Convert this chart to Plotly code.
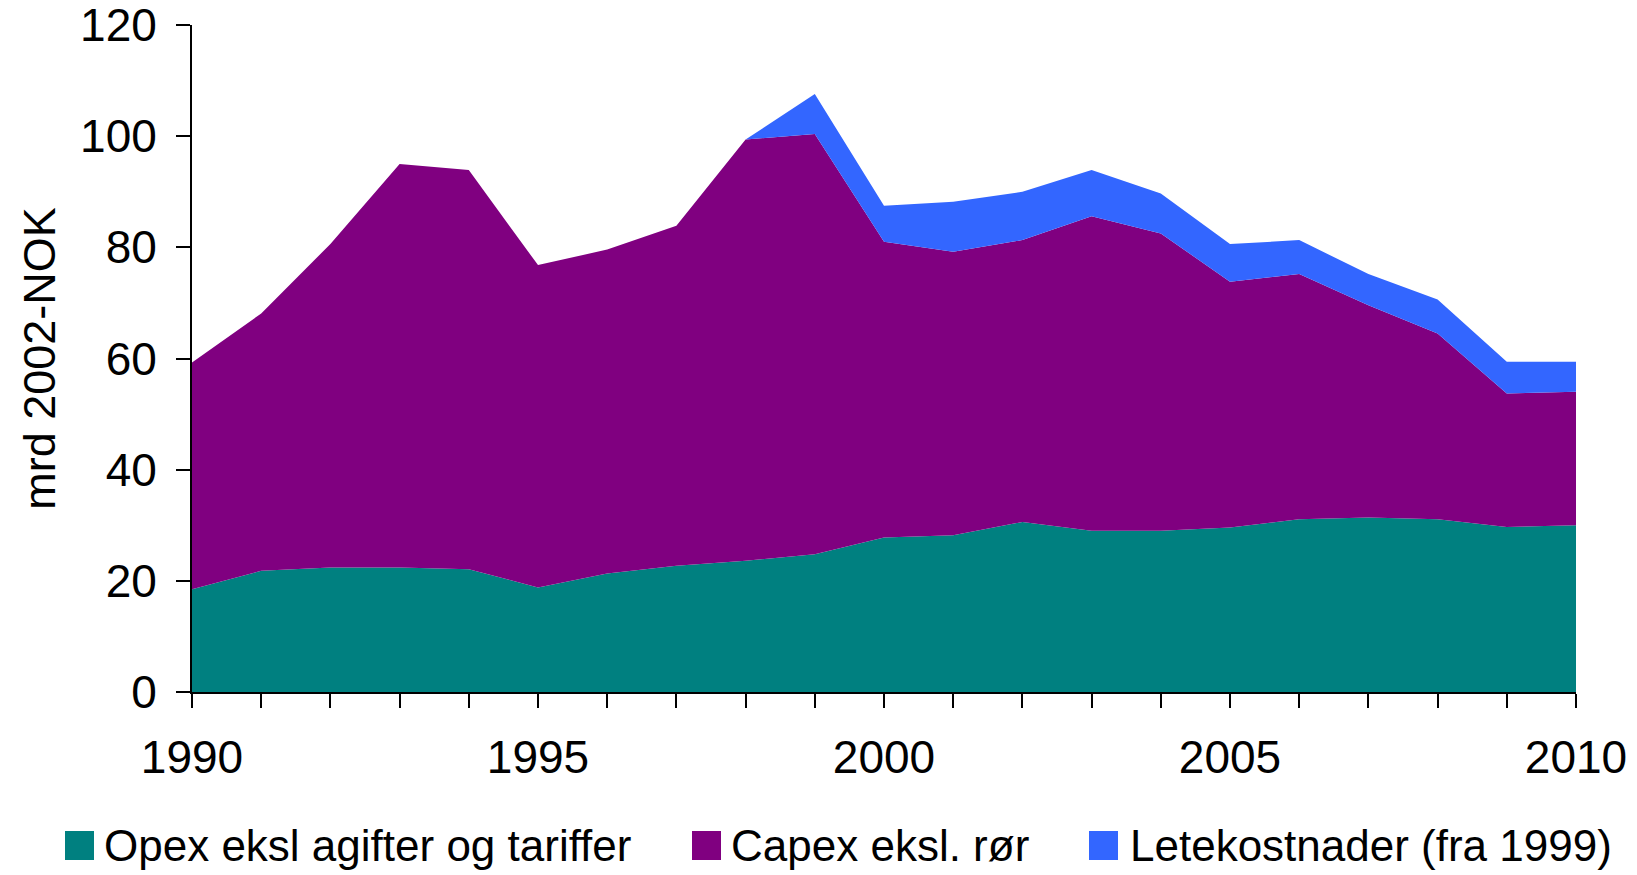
"""
Stacked area chart: petroleum costs, mrd 2002-NOK, 1990-2010.
"""

import plotly.graph_objects as go


# ==========================================================
# DATA
# ==========================================================

years = list(range(1990, 2011))

opex = [18.5, 21.8, 22.4, 22.4, 22.1, 18.8, 21.3, 22.7, 23.6, 24.8, 27.8,
        28.2, 30.6, 29.0, 29.0, 29.6, 31.1, 31.4, 31.1, 29.7, 30.0]

capex = [40.8, 46.3, 58.2, 72.6, 71.8, 58.0, 58.3, 61.2, 75.8, 75.6, 53.2,
         51.0, 50.7, 56.6, 53.5, 44.2, 44.1, 38.2, 33.4, 24.0, 24.0]

lete = [None, None, None, None, None, None, None, None, 0.0, 7.2, 6.5,
        9.0, 8.7, 8.3, 7.2, 6.8, 6.1, 5.6, 6.1, 5.7, 5.4]

series_names = [
    "Opex eksl agifter og tariffer",
    "Capex eksl. rør",
    "Letekostnader (fra 1999)",
]
series_colors = ["#008080", "#800080", "#3366FF"]

y_ticks = [0, 20, 40, 60, 80, 100, 120]
x_ticks = [1990, 1995, 2000, 2005, 2010]


# ==========================================================
# FIGURE
# ==========================================================

FONT = "Liberation Sans, Arial, sans-serif"
W, H = 1637, 875
L, R, T, B = 192, 61, 25, 183

fig = go.Figure()

for name, values, color in zip(series_names, [opex, capex, lete], series_colors):
    fig.add_trace(
        go.Scatter(
            x=years,
            y=values,
            name=name,
            mode="lines",
            stackgroup="one",
            line=dict(width=0, color=color),
            fillcolor=color,
            showlegend=False
        )
    )


# custom legend (large square swatches like the original)
def paper_x(px):
    return (px - L) / (W - L - R)


def paper_y(py):
    return (H - B - py) / (H - B - T)


legend_items = [(65, 104), (692, 731), (1089, 1130)]
sw = 29
sw_top, sw_bottom = 831, 860

for (sx, tx), name, color in zip(legend_items, series_names, series_colors):
    fig.add_shape(
        type="rect",
        xref="paper", yref="paper",
        x0=paper_x(sx), x1=paper_x(sx + sw),
        y0=paper_y(sw_bottom), y1=paper_y(sw_top),
        fillcolor=color,
        line=dict(width=0)
    )
    fig.add_annotation(
        xref="paper", yref="paper",
        x=paper_x(tx - 2), y=paper_y((sw_top + sw_bottom) / 2),
        xanchor="left", yanchor="middle",
        text=name,
        showarrow=False,
        font=dict(family=FONT, size=44, color="black")
    )

fig.update_layout(
    width=W,
    height=H,
    margin=dict(l=L, r=R, t=T, b=B, autoexpand=False),
    paper_bgcolor="white",
    plot_bgcolor="white",
    font=dict(family=FONT, size=46, color="black"),
    showlegend=False,
    xaxis=dict(
        range=[1990, 2010],
        tickvals=x_ticks,
        ticks="outside",
        ticklen=14,
        tickwidth=2,
        tickcolor="black",
        ticklabelstandoff=10,
        ticklabeloverflow="allow",
        minor=dict(dtick=1, tick0=1990, ticks="outside", ticklen=14,
                   tickwidth=2, tickcolor="black"),
        showline=True,
        linecolor="black",
        linewidth=2,
        showgrid=False,
        zeroline=False,
        automargin=False
    ),
    yaxis=dict(
        range=[0, 120],
        tickvals=y_ticks,
        ticks="outside",
        ticklen=14,
        tickwidth=2,
        tickcolor="black",
        ticklabelstandoff=10,
        ticklabeloverflow="allow",
        showline=True,
        linecolor="black",
        linewidth=2,
        showgrid=False,
        zeroline=False,
        automargin=False,
        title=dict(text="mrd 2002-NOK", font=dict(size=45), standoff=10)
    )
)

# drop the default 8px page margin so the figure sits at the window corner
fig.write_html(
    "out.html",
    config={"displayModeBar": False},
    post_script="document.body.style.margin = '0';"
)
